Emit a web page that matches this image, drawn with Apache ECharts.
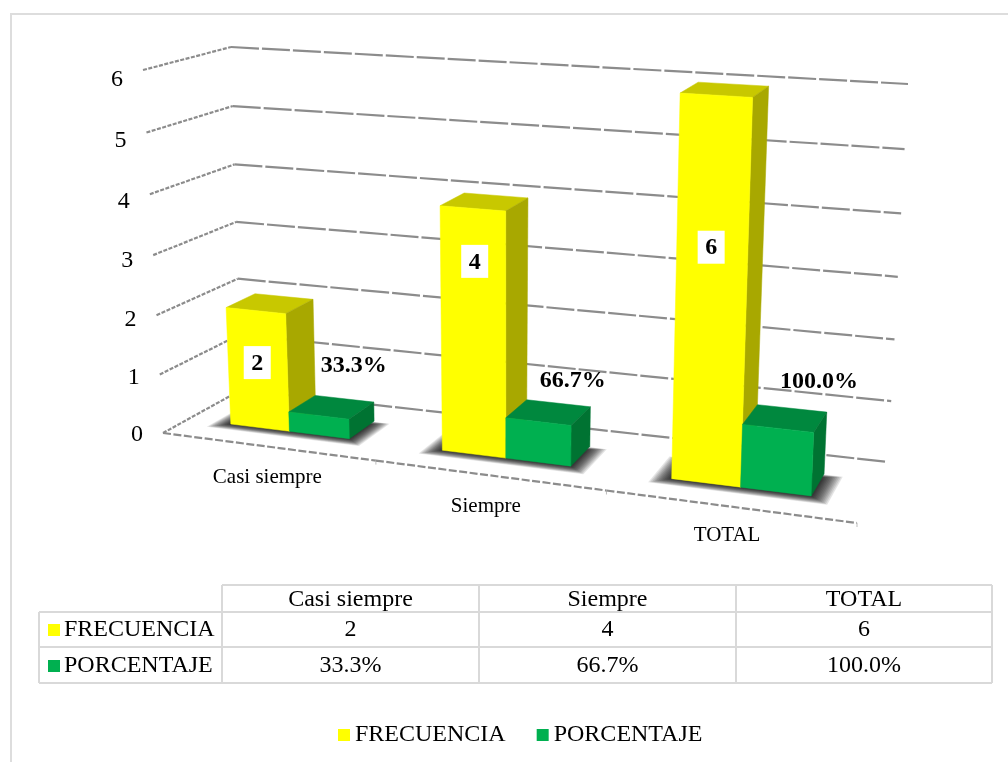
<!DOCTYPE html>
<html>
<head>
<meta charset="utf-8">
<style>html,body{margin:0;padding:0;background:#fff}#c{width:1008px;height:762px}</style>
<script src="https://cdn.jsdelivr.net/npm/echarts@6/dist/echarts.min.js"></script>
</head>
<body>
<div id="c"></div>
<script>
// ---- data ----
const categories = ['Casi siempre', 'Siempre', 'TOTAL'];
const frecuencia = [2, 4, 6];
const porcentaje = [0.333, 0.667, 1.0];
const yTicks = [0, 1, 2, 3, 4, 5, 6];
const seriesNames = ['FRECUENCIA', 'PORCENTAJE'];
const fmtPct = v => (v * 100).toFixed(1) + '%';

// ---- styles / perspective box (screen corners of the 3D chart box) ----
const FONT = '"Liberation Serif","Times New Roman",serif';
const YELLOW = { front: '#FFFF00', top: '#C8C800', side: '#A8A800' };
const GREEN = { front: '#00B050', top: '#00883E', side: '#007332' };
const GRID_COLOR = '#8c8c8c';
const box = {
  fl0: [163, 433], fr0: [857, 523], br0: [888, 462], bl0: [241, 390],
  fl6: [143, 70], fr6: [875, 116], br6: [908, 84], bl6: [231, 47]
};
const K = 1.13;               // horizontal perspective
const V0 = 0.33, V1 = 0.70;   // bar depth on the floor
const BAR_START = 0.2085, BAR_W = 0.285; // fractions of a category band
const SHADOW_LAYERS = 12;
const yLabelOffsets = [[1.5, 53], [2, 54], [-5, 153]];
const gLabelOffsets = [[35, -50], [34.5, -41], [41, -47]];
const catLabelOffsets = [[0, 31], [-3, 31], [-2, 29]];

const lerp = (a, b, t) => [a[0] + (b[0] - a[0]) * t, a[1] + (b[1] - a[1]) * t];
function bilin(fl, fr, bl, br, u, v) { return lerp(lerp(fl, fr, u), lerp(bl, br, u), v); }
function warp(s, t, v) {
  const u = s / (K - (K - 1) * s);
  const h = t * (0.96 + 0.04 * t);
  return lerp(
    bilin(box.fl0, box.fr0, box.bl0, box.br0, u, v),
    bilin(box.fl6, box.fr6, box.bl6, box.br6, u, v), h);
}
// from library coordinates to the warped screen position
function projector(params, api) {
  const r = params.coordSys;
  return (cat, val, bandFrac, v) => {
    const c = api.coord([cat, val]);
    const bw = api.size([1, 0])[0];
    const px = c[0] + (bandFrac - 0.5) * bw;
    return warp((px - r.x) / r.width, (r.y + r.height - c[1]) / r.height, v);
  };
}
function poly(points, fill) {
  return { type: 'polygon', shape: { points }, style: { fill, stroke: fill, lineWidth: 0.5 } };
}
function barRender(colors, index, offsets, labelFn) {
  return function (params, api) {
    const P = projector(params, api);
    const cat = api.value(0), val = api.value(1);
    const a = BAR_START + index * BAR_W, b = a + BAR_W;
    const f = (x, h, v) => P(cat, h, x, v);
    const children = [
      poly([f(a, val, V0), f(b, val, V0), f(b, val, V1), f(a, val, V1)], colors.top),
      poly([f(b, 0, V0), f(b, 0, V1), f(b, val, V1), f(b, val, V0)], colors.side),
      poly([f(a, 0, V0), f(b, 0, V0), f(b, val, V0), f(a, val, V0)], colors.front)
    ];
    const anchor = f((a + b) / 2, val, V0);
    const o = offsets[params.dataIndex];
    const lx = anchor[0] + o[0], ly = anchor[1] + o[1];
    if (index === 0) {
      children.push({ type: 'rect', shape: { x: lx - 13.5, y: ly - 17.5, width: 27, height: 33 }, style: { fill: '#fff' } });
    }
    children.push({ type: 'text', style: { text: labelFn(val), x: lx, y: ly, align: 'center', verticalAlign: 'middle', font: 'bold 24px ' + FONT, fill: '#000' } });
    return { type: 'group', children };
  };
}
function wallRender(params, api) {
  const r = params.coordSys;
  const val = api.value(0);
  const c = api.coord([0, val]);
  const t = (r.y + r.height - c[1]) / r.height;
  const fl = warp(0, t, 0), bl = warp(0, t, 1), br = warp(1, t, 1);
  const children = [
    { type: 'polyline', shape: { points: [fl, bl] }, style: { stroke: GRID_COLOR, lineWidth: 2.2, lineDash: [4, 1.5] } },
    { type: 'polyline', shape: { points: [bl, br] }, style: { stroke: GRID_COLOR, lineWidth: 2.2, lineDash: [28, 3] } },
    { type: 'text', style: { text: String(val), x: fl[0] - 26, y: fl[1] + 2 + val * 1.3, align: 'center', verticalAlign: 'middle', font: '24px ' + FONT, fill: '#000' } }
  ];
  return { type: 'group', children };
}
function floorRender(params, api) {
  const r = params.coordSys;
  const idx = api.value(0);
  const bw = api.size([1, 0])[0];
  const c = api.coord([idx, 0]);
  const s = (c[0] - r.x) / r.width, s0 = (c[0] - bw / 2 - r.x) / r.width, s1 = (c[0] + bw / 2 - r.x) / r.width;
  const a = warp(s0, 0, 0), b = warp(s1, 0, 0), m = warp(s, 0, 0);
  const o = catLabelOffsets[idx];
  const children = [];
  // soft shadow of the bars on the floor: stacked translucent outlines that fade outwards
  for (let k = SHADOW_LAYERS; k >= 1; k--) {
    const sa = s0 + (BAR_START - k * 0.0065) * bw / r.width;
    const sb = s0 + (BAR_START + 2 * BAR_W + k * 0.0065) * bw / r.width;
    const va = V0 - k * 0.009, vb = V1 - 0.06 + k * 0.004;
    children.push({
      type: 'polygon',
      shape: { points: [warp(sa, 0, va), warp(sb, 0, va), warp(sb, 0, vb), warp(sa, 0, vb)] },
      style: { fill: 'rgba(0,0,0,0.1)', shadowBlur: 3, shadowColor: 'rgba(0,0,0,0.1)' }
    });
  }
  children.push(
    { type: 'polyline', shape: { points: [a, b] }, style: { stroke: GRID_COLOR, lineWidth: 2.2, lineDash: [8, 2.5] } },
    { type: 'line', shape: { x1: b[0], y1: b[1], x2: b[0], y2: b[1] + 4 }, style: { stroke: '#bdbdbd', lineWidth: 1 } },
    { type: 'text', style: { text: categories[idx], x: m[0] + o[0], y: m[1] + o[1], align: 'center', verticalAlign: 'middle', font: '21px ' + FONT, fill: '#000' } }
  );
  return { type: 'group', children };
}

// ---- table ----
const tableLines = [];
const TL = { stroke: '#D9D9D9', lineWidth: 2 };
const xs = [39, 222, 479, 736, 992], ys = [585, 612, 647, 683];
function hline(x1, x2, y) { tableLines.push({ type: 'line', shape: { x1, y1: y, x2, y2: y }, style: TL }); }
function vline(x, y1, y2) { tableLines.push({ type: 'line', shape: { x1: x, y1, x2: x, y2 }, style: TL }); }
hline(xs[1], xs[4], ys[0]); hline(xs[0], xs[4], ys[1]); hline(xs[0], xs[4], ys[2]); hline(xs[0], xs[4], ys[3]);
vline(xs[0], ys[1], ys[3]); vline(xs[1], ys[0], ys[3]); vline(xs[2], ys[0], ys[3]); vline(xs[3], ys[0], ys[3]); vline(xs[4], ys[0], ys[3]);
function cell(text, x, y, align) {
  return { type: 'text', style: { text, x, y, align: align || 'center', verticalAlign: 'middle', font: '24px ' + FONT, fill: '#000' } };
}
const tableTexts = [];
categories.forEach((c, i) => {
  const cx = (xs[i + 1] + xs[i + 2]) / 2;
  tableTexts.push(cell(c, cx, 600));
  tableTexts.push(cell(String(frecuencia[i]), cx, 630));
  tableTexts.push(cell(fmtPct(porcentaje[i]), cx, 666));
});
tableTexts.push(cell(seriesNames[0], 64, 630, 'left'));
tableTexts.push(cell(seriesNames[1], 64, 666, 'left'));
const keys = [
  { type: 'rect', shape: { x: 48, y: 624, width: 12, height: 12 }, style: { fill: YELLOW.front } },
  { type: 'rect', shape: { x: 48, y: 660, width: 12, height: 12 }, style: { fill: GREEN.front } }
];

const chart = echarts.init(document.getElementById('c'), null, { renderer: 'canvas' });
chart.setOption({
  backgroundColor: '#fff',
  animation: false,
  grid: { left: 100, right: 100, top: 50, bottom: 300 },
  xAxis: { type: 'category', data: categories, show: false },
  yAxis: { type: 'value', min: 0, max: 6, interval: 1, show: false },
  legend: {
    data: seriesNames, left: 338, top: 723, padding: 0, icon: 'rect', itemWidth: 12, itemHeight: 12, itemGap: 31,
    textStyle: { fontFamily: FONT, fontSize: 24, color: '#000' }
  },
  graphic: [
    { type: 'polyline', silent: true, shape: { points: [[11, 770], [11, 14], [1016, 14]] }, style: { stroke: '#DDDDDD', lineWidth: 2, fill: null } }
  ].concat(tableLines, tableTexts, keys),
  series: [
    { type: 'custom', name: 'wall', coordinateSystem: 'cartesian2d', clip: false, silent: true, z: 1,
      renderItem: wallRender, data: yTicks.map(v => [v]), encode: { y: 0 } },
    { type: 'custom', name: 'floor', coordinateSystem: 'cartesian2d', clip: false, silent: true, z: 2,
      renderItem: floorRender, data: categories.map((c, i) => [i]), encode: { x: 0 } },
    { type: 'custom', name: seriesNames[0], coordinateSystem: 'cartesian2d', clip: false, z: 3, itemStyle: { color: YELLOW.front },
      renderItem: barRender(YELLOW, 0, yLabelOffsets, v => String(v)),
      data: frecuencia.map((v, i) => [i, v]), encode: { x: 0, y: 1 } },
    { type: 'custom', name: seriesNames[1], coordinateSystem: 'cartesian2d', clip: false, z: 4, itemStyle: { color: GREEN.front },
      renderItem: barRender(GREEN, 1, gLabelOffsets, fmtPct),
      data: porcentaje.map((v, i) => [i, v]), encode: { x: 0, y: 1 } }
  ]
});
</script>
</body>
</html>
